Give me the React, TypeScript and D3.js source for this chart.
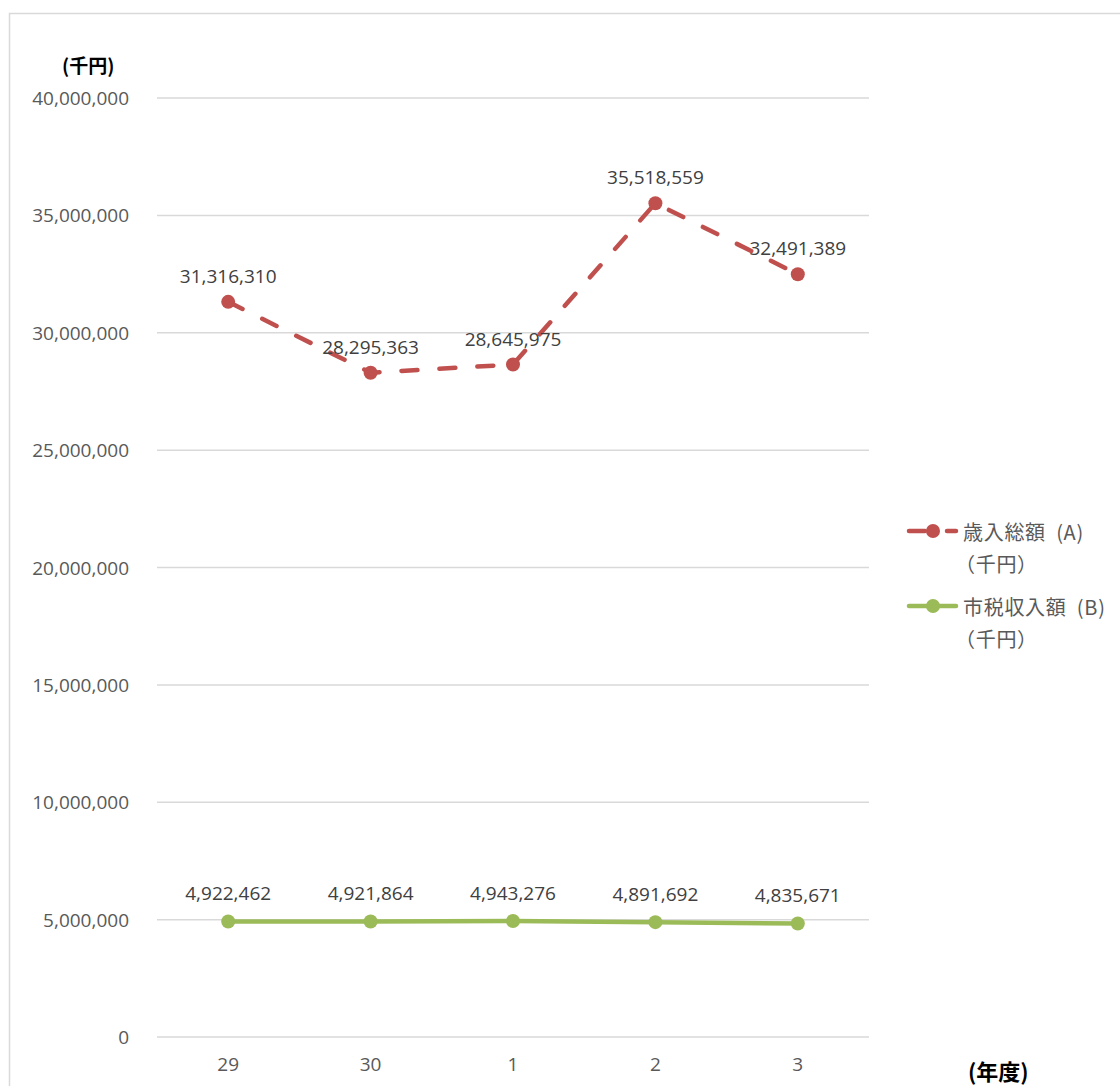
import React from "react";
import * as d3 from "d3";

const categories = ["29", "30", "1", "2", "3"];
const revenueA = [31316310, 28295363, 28645975, 35518559, 32491389];
const taxB = [4922462, 4921864, 4943276, 4891692, 4835671];
const yTicks = [0, 5000000, 10000000, 15000000, 20000000, 25000000, 30000000, 35000000, 40000000];
const seriesNames = ["歳入総額  (A)", "市税収入額  (B)"];
const unitLabel = "（千円）";

const W = 1120;
const H = 1086;
const RED = "#C0504D";
const GREEN = "#9BBB59";
const NUM_FONT = "'Open Sans', 'Noto Sans', sans-serif";
const CJK_FONT = "'Noto Sans CJK JP', 'Noto Sans', sans-serif";

export default function App() {
  const x = d3.scalePoint<string>().domain(categories).range([157, 869]).padding(0.5);
  const y = d3.scaleLinear().domain([0, 40000000]).range([1037, 98]);
  const fmt = d3.format(",");
  const line = d3
    .line<number>()
    .x((_, i) => x(categories[i]) as number)
    .y((d) => y(d));

  return (
    <div style={{ position: "absolute", left: 0, top: 0, width: W, height: H, overflow: "hidden" }}>
      <svg width={W} height={H} style={{ display: "block", background: "#fff" }}>
        <rect x={9.5} y={13.5} width={1300} height={1300} fill="none" stroke="#d9d9d9" strokeWidth={1.5} />
        {yTicks.map((t) => (
          <g key={t}>
            <line x1={157} x2={869} y1={y(t)} y2={y(t)} stroke="#d9d9d9" strokeWidth={1.5} />
            <text
              x={129}
              y={y(t)}
              textAnchor="end"
              dominantBaseline="central"
              fontFamily={NUM_FONT}
              fontSize={19}
              fill="#595959"
            >
              {fmt(t)}
            </text>
          </g>
        ))}
        {categories.map((c) => (
          <text
            key={c}
            x={x(c)}
            y={1064}
            textAnchor="middle"
            dominantBaseline="central"
            fontFamily={NUM_FONT}
            fontSize={19}
            fill="#595959"
          >
            {c}
          </text>
        ))}
        <text x={62} y={64} dominantBaseline="central" fontFamily={CJK_FONT} fontWeight="bold" fontSize={19} fill="#000">
          (千円)
        </text>
        <text x={968} y={1070} dominantBaseline="central" fontFamily={CJK_FONT} fontWeight="bold" fontSize={22} fill="#000">
          (年度)
        </text>

        {/* series A */}
        <path
          d={line(revenueA) || ""}
          fill="none"
          stroke={RED}
          strokeWidth={4.5}
          strokeDasharray="16 22"
          strokeLinecap="round"
          strokeLinejoin="round"
        />
        {revenueA.map((v, i) => (
          <circle key={i} cx={x(categories[i])} cy={y(v)} r={7} fill={RED} />
        ))}
        {/* series B */}
        <path d={line(taxB) || ""} fill="none" stroke={GREEN} strokeWidth={4.5} strokeLinecap="round" strokeLinejoin="round" />
        {taxB.map((v, i) => (
          <circle key={i} cx={x(categories[i])} cy={y(v)} r={7} fill={GREEN} />
        ))}

        {revenueA.map((v, i) => (
          <text
            key={"la" + i}
            x={x(categories[i])}
            y={y(v) - 26}
            textAnchor="middle"
            dominantBaseline="central"
            fontFamily={NUM_FONT}
            fontSize={19}
            fill="#404040"
          >
            {fmt(v)}
          </text>
        ))}
        {taxB.map((v, i) => (
          <text
            key={"lb" + i}
            x={x(categories[i])}
            y={y(v) - 28}
            textAnchor="middle"
            dominantBaseline="central"
            fontFamily={NUM_FONT}
            fontSize={19}
            fill="#404040"
          >
            {fmt(v)}
          </text>
        ))}

        {/* legend */}
        <line x1={909} x2={956} y1={531} y2={531} stroke={RED} strokeWidth={4.5} strokeDasharray="16 22" strokeLinecap="round" />
        <circle cx={933} cy={531} r={7} fill={RED} />
        <text x={963} y={531} dominantBaseline="central" fontFamily={CJK_FONT} fontSize={20} letterSpacing={0.7} fill="#595959" style={{ whiteSpace: "pre" }}>
          {seriesNames[0]}
        </text>
        <text x={955} y={563} dominantBaseline="central" fontFamily={CJK_FONT} fontSize={20} letterSpacing={0.7} fill="#595959">
          {unitLabel}
        </text>
        <line x1={909} x2={956} y1={606} y2={606} stroke={GREEN} strokeWidth={4.5} strokeLinecap="round" />
        <circle cx={933} cy={606} r={7} fill={GREEN} />
        <text x={963} y={606} dominantBaseline="central" fontFamily={CJK_FONT} fontSize={20} letterSpacing={0.7} fill="#595959" style={{ whiteSpace: "pre" }}>
          {seriesNames[1]}
        </text>
        <text x={955} y={638} dominantBaseline="central" fontFamily={CJK_FONT} fontSize={20} letterSpacing={0.7} fill="#595959">
          {unitLabel}
        </text>
      </svg>
    </div>
  );
}
